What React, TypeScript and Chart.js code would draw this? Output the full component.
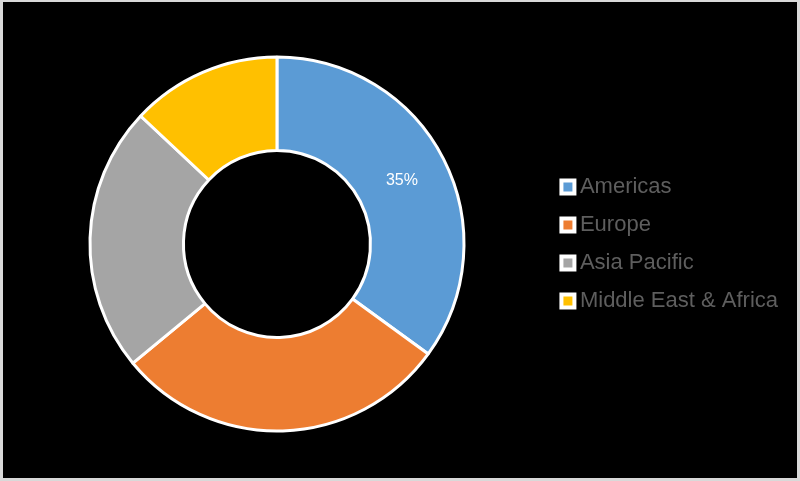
import React, { useEffect, useRef } from 'react';
import { Chart, registerables } from 'chart.js';

Chart.register(...registerables);

const categories = ['Americas', 'Europe', 'Asia Pacific', 'Middle East & Africa'];
const shares = [35, 29, 23, 13];
const colors = ['#5B9BD5', '#ED7D31', '#A5A5A5', '#FFC000'];
const shownLabels = ['35%', '', '', ''];

const FONT = '"Liberation Sans", Arial, sans-serif';

export default function App() {
  const ref = useRef<HTMLCanvasElement | null>(null);

  useEffect(() => {
    if (!ref.current) return;
    const labelPlugin = {
      id: 'sliceLabels',
      afterDatasetsDraw(chart: any) {
        const ctx = chart.ctx;
        const meta = chart.getDatasetMeta(0);
        ctx.save();
        ctx.font = `16px ${FONT}`;
        ctx.fillStyle = '#ffffff';
        ctx.textAlign = 'center';
        ctx.textBaseline = 'middle';
        meta.data.forEach((arc: any, i: number) => {
          const t = shownLabels[i];
          if (!t) return;
          const p = arc.tooltipPosition(false);
          ctx.fillText(t, p.x, p.y);
        });
        ctx.restore();
      },
    };

    const chart = new Chart(ref.current, {
      type: 'doughnut',
      data: {
        labels: categories,
        datasets: [
          {
            data: shares,
            backgroundColor: colors,
            borderColor: '#ffffff',
            borderWidth: 3,
            hoverOffset: 0,
            radius: 187,
            cutout: '50%',
          } as any,
        ],
      },
      options: {
        animation: false,
        responsive: true,
        maintainAspectRatio: false,
        layout: { padding: { left: 0, right: 9, top: 8, bottom: 0 } },
        plugins: {
          tooltip: { enabled: false },
          legend: {
            position: 'right',
            labels: {
              usePointStyle: true,
              pointStyle: 'rect',
              boxWidth: 2,
              boxHeight: 13,
              padding: 16,
              color: '#5e5e5e',
              font: { family: FONT, size: 22 },
              generateLabels(c: any) {
                const items = (Chart as any).overrides.doughnut.plugins.legend.labels.generateLabels(c);
                return items.map((it: any) => ({ ...it, strokeStyle: '#ffffff', lineWidth: 4 }));
              },
            },
          },
        },
      },
      plugins: [labelPlugin],
    });
    return () => chart.destroy();
  }, []);

  return (
    <div
      style={{
        position: 'fixed',
        left: 0,
        top: 0,
        width: 800,
        height: 481,
        boxSizing: 'border-box',
        borderStyle: 'solid',
        borderColor: '#d9d9d9',
        borderWidth: '2px 3px 3px 3px',
        background: '#000000',
      }}
    >
      <div style={{ position: 'relative', width: '100%', height: '100%' }}>
        <canvas ref={ref} />
      </div>
    </div>
  );
}
